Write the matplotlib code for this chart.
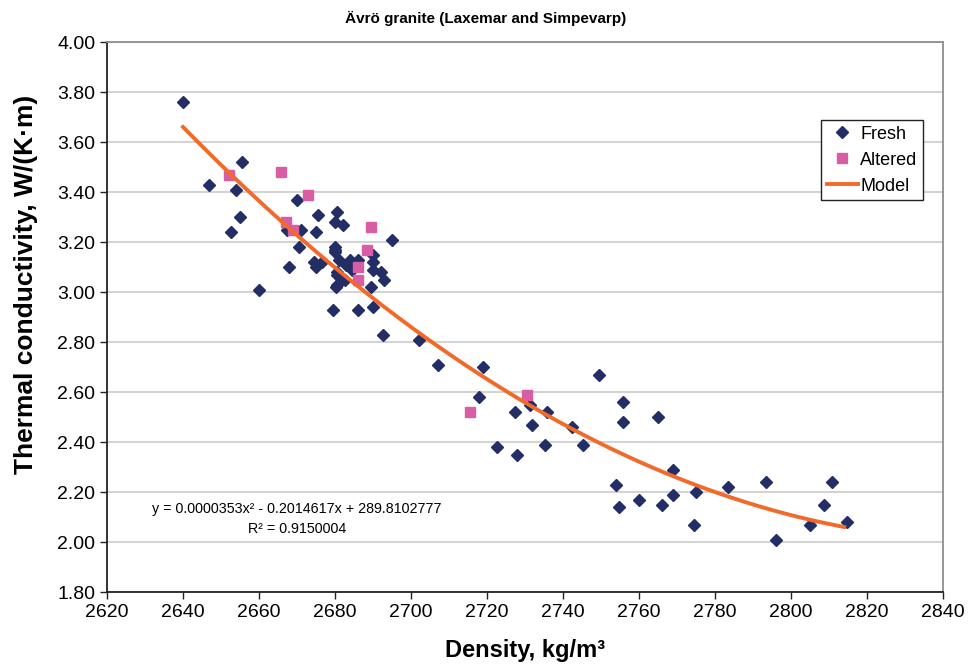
import matplotlib.pyplot as plt
import numpy as np

plt.rcParams['font.family'] = ['Liberation Sans', 'DejaVu Sans']

# Fresh samples: density (kg/m3) and thermal conductivity (W/(K m))
fresh_density = [
    2640, 2646.8, 2654, 2655.5, 2655, 2652.6, 2660, 2670, 2675.5, 2680.5,
    2680, 2682, 2675, 2671, 2667.4, 2670.5, 2668, 2680, 2680, 2680,
    2674.5, 2675, 2676.6, 2681, 2684, 2695, 2683, 2686, 2690, 2690,
    2690, 2692, 2693, 2680.5, 2680.5, 2682.6, 2684.5, 2680.3, 2680.5, 2689.5,
    2679.5, 2686, 2690, 2692.6, 2702, 2707, 2719, 2718, 2727.4, 2731.3,
    2731.8, 2735.8, 2742.4, 2722.6, 2728, 2735.3, 2745.3, 2749.5, 2755.8, 2755.8,
    2765, 2769, 2754, 2754.7, 2760, 2766, 2769, 2775, 2774.5, 2783.4,
    2793.4, 2796, 2810.8, 2808.7, 2805, 2814.7,
]
fresh_conductivity = [
    3.76, 3.43, 3.41, 3.52, 3.30, 3.24, 3.01, 3.37, 3.31, 3.32,
    3.28, 3.27, 3.24, 3.25, 3.25, 3.18, 3.10, 3.18, 3.17, 3.16,
    3.12, 3.10, 3.12, 3.13, 3.13, 3.21, 3.11, 3.13, 3.15, 3.12,
    3.09, 3.08, 3.05, 3.08, 3.07, 3.05, 3.09, 3.02, 3.03, 3.02,
    2.93, 2.93, 2.94, 2.83, 2.81, 2.71, 2.70, 2.58, 2.52, 2.55,
    2.47, 2.52, 2.46, 2.38, 2.35, 2.39, 2.39, 2.67, 2.56, 2.48,
    2.50, 2.29, 2.23, 2.14, 2.17, 2.15, 2.19, 2.20, 2.07, 2.22,
    2.24, 2.01, 2.24, 2.15, 2.07, 2.08,
]

# Altered samples
altered_density = [2652, 2665.8, 2673, 2667, 2669, 2689.5, 2688.4, 2686, 2686, 2730.5, 2715.5]
altered_conductivity = [3.47, 3.48, 3.39, 3.28, 3.25, 3.26, 3.17, 3.10, 3.05, 2.59, 2.52]

# Model curve (quadratic) and its range
model_coef = [3.63e-5, -0.207175, 297.6055]
model_range = [2640, 2814]

equation = 'y = 0.0000353x² - 0.2014617x + 289.8102777'
r_squared = 'R² = 0.9150004'

xm = np.linspace(model_range[0], model_range[1], 200)
ym = np.polyval(model_coef, xm)

fig = plt.figure(figsize=(9.71, 6.70), dpi=100)
ax = fig.add_axes([0.1102, 0.1164, 0.861, 0.8209])

ax.plot(fresh_density, fresh_conductivity, linestyle='none', marker='D',
        markersize=6.3, color='#232D66', label='Fresh', zorder=3)
ax.plot(altered_density, altered_conductivity, linestyle='none', marker='s',
        markersize=7, color='#D95DA4', label='Altered', zorder=3)
ax.plot(xm, ym, color='#F26A2A', linewidth=2.8, label='Model', zorder=4)

ax.set_xlim(2620, 2840)
ax.set_ylim(1.80, 4.00)
ax.set_xticks(np.arange(2620, 2841, 20))
ax.set_yticks(np.arange(1.80, 4.001, 0.20))
ax.set_yticklabels(['%.2f' % v for v in np.arange(1.80, 4.001, 0.20)])
ax.tick_params(labelsize=14, length=5, width=1, direction='out', color='#222222')
ax.grid(axis='y', color='#D3D3D3', linewidth=1.5)
ax.set_axisbelow(True)

ax.spines['left'].set_color('#222222')
ax.spines['bottom'].set_color('#222222')
ax.spines['top'].set_color('#8A8F8F')
ax.spines['right'].set_color('#8A8F8F')
for s in ax.spines.values():
    s.set_linewidth(1.3)

fig.suptitle('Ävrö granite (Laxemar and Simpevarp)', fontsize=11,
             fontweight='bold', x=0.5, y=0.972, va='center')
ax.set_xlabel('Density, kg/m³', fontsize=17, fontweight='bold', labelpad=13)
ax.set_ylabel('Thermal conductivity, W/(K·m)', fontsize=19, fontweight='bold')
ax.yaxis.set_label_coords(-0.083, 0.56)

ax.text(2670, 2.134, equation, fontsize=10.3, ha='center', va='center')
ax.text(2670, 2.054, r_squared, fontsize=10.3, ha='center', va='center')

leg = ax.legend(loc='upper right', bbox_to_anchor=(0.976, 0.858), fontsize=13,
                frameon=True, fancybox=False, framealpha=1, edgecolor='#222222',
                handlelength=1.7, handletextpad=0.15, borderpad=0.3,
                labelspacing=0.5, borderaxespad=0)
leg.get_frame().set_linewidth(1.0)

fig.savefig('out.png', dpi=100)
